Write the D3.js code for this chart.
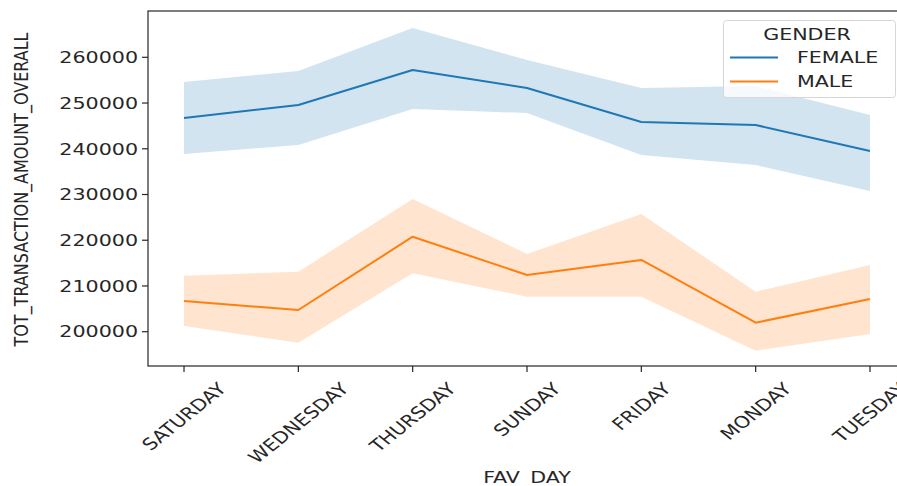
<!DOCTYPE html>
<html>
<head>
<meta charset="utf-8">
<script src="https://cdn.jsdelivr.net/npm/d3@7"></script>
<style>
  html, body { margin: 0; padding: 0; background: #fff; }
  svg { display: block; }
  text { font-family: "DejaVu Sans", sans-serif; fill: #262626; }
</style>
</head>
<body>
<svg id="chart" width="897" height="486"></svg>
<script>
// Favourite day of the week (x categories)
const days = ["SATURDAY", "WEDNESDAY", "THURSDAY", "SUNDAY", "FRIDAY", "MONDAY", "TUESDAY"];

// Mean total transaction amount with confidence interval, per gender
const femaleMean  = [246730, 249570, 257220, 253290, 245850, 245200, 239510];
const femaleLower = [238850, 240820, 248690, 247820, 238640, 236450, 230760];
const femaleUpper = [254600, 257000, 266410, 259410, 253290, 253720, 247380];

const maleMean  = [206710, 204750, 220770, 212400, 215680, 201970, 207150];
const maleLower = [201250, 197590, 212770, 207650, 207650, 195850, 199500];
const maleUpper = [212250, 213120, 229020, 216990, 225740, 208750, 214590];

const yTicks = [200000, 210000, 220000, 230000, 240000, 250000, 260000];

const legendTitle = "GENDER";
const seriesNames = ["FEMALE", "MALE"];
const seriesColors = ["#1f77b4", "#ff7f0e"];

const xLabel = "FAV_DAY";
const yLabel = "TOT_TRANSACTION_AMOUNT_OVERALL";

// Layout
const plot = { left: 148, top: 11, right: 906, bottom: 366 };
const fontSize = 16.5;
const stretch = 1.25; // horizontal glyph scaling

const svg = d3.select("#chart");

const x = d3.scaleLinear()
  .domain([-0.315, days.length - 1 + 0.315])
  .range([plot.left, plot.right]);

const y = d3.scaleLinear()
  .domain([192500, 270125])
  .range([plot.bottom, plot.top]);

const series = [
  { name: seriesNames[0], color: seriesColors[0], mean: femaleMean, lo: femaleLower, hi: femaleUpper },
  { name: seriesNames[1], color: seriesColors[1], mean: maleMean,   lo: maleLower,   hi: maleUpper }
];

// Confidence bands
const area = d3.area()
  .x((d, i) => x(i))
  .y0((d, i) => y(d.lo))
  .y1((d, i) => y(d.hi));

const line = d3.line()
  .x((d, i) => x(i))
  .y(d => y(d));

series.forEach(s => {
  const pts = s.mean.map((m, i) => ({ lo: s.lo[i], hi: s.hi[i] }));
  svg.append("path")
    .datum(pts)
    .attr("d", area)
    .attr("fill", s.color)
    .attr("fill-opacity", 0.2)
    .attr("stroke", "none");
});

series.forEach(s => {
  svg.append("path")
    .datum(s.mean)
    .attr("d", line)
    .attr("fill", "none")
    .attr("stroke", s.color)
    .attr("stroke-width", 2)
    .attr("stroke-linejoin", "round")
    .attr("stroke-linecap", "butt");
});

// Helper for horizontally stretched text
function stretchedText(parent, str, tx, ty, rot, anchor, baseline, size) {
  return parent.append("text")
    .attr("transform", `translate(${tx},${ty}) scale(${stretch},1) rotate(${rot})`)
    .attr("text-anchor", anchor)
    .attr("dominant-baseline", baseline)
    .style("font-size", (size || fontSize) + "px")
    .text(str);
}

// Y axis
const yAxis = svg.append("g");
yTicks.forEach(t => {
  const yy = y(t);
  yAxis.append("line")
    .attr("x1", plot.left - 6).attr("x2", plot.left)
    .attr("y1", yy).attr("y2", yy)
    .attr("stroke", "#262626").attr("stroke-width", 1.2);
  stretchedText(yAxis, d3.format("d")(t), plot.left - 10, yy, 0, "end", "central");
});

// X axis
const xAxis = svg.append("g");
days.forEach((d, i) => {
  const xx = x(i);
  xAxis.append("line")
    .attr("x1", xx).attr("x2", xx)
    .attr("y1", plot.bottom).attr("y2", plot.bottom + 6)
    .attr("stroke", "#262626").attr("stroke-width", 1.2);
  const g = xAxis.append("g");
  stretchedText(g, d, xx, 0, -45, "middle", "central");
  const r = g.node().getBBox();
  g.attr("transform", `translate(0,${379 - r.y})`);
});

// Spines
svg.append("rect")
  .attr("x", plot.left).attr("y", plot.top)
  .attr("width", plot.right - plot.left).attr("height", plot.bottom - plot.top)
  .attr("fill", "none")
  .attr("stroke", "#262626").attr("stroke-width", 1.2);

// Axis labels
stretchedText(svg, xLabel, (plot.left + plot.right) / 2, 483, 0, "middle", "auto");
stretchedText(svg, yLabel, 21, (plot.top + plot.bottom) / 2 + 1, -90, "middle", "central", 16);

// Legend
const legend = svg.append("g");
legend.append("rect")
  .attr("x", 723.5).attr("y", 20.5)
  .attr("width", 172).attr("height", 77)
  .attr("rx", 3).attr("ry", 3)
  .attr("fill", "#fff").attr("fill-opacity", 0.8)
  .attr("stroke", "#d6d6d6").attr("stroke-width", 1);
stretchedText(legend, legendTitle, 807, 40, 0, "middle", "auto");
series.forEach((s, i) => {
  const ly = 57.5 + i * 24;
  legend.append("line")
    .attr("x1", 730).attr("x2", 778)
    .attr("y1", ly).attr("y2", ly)
    .attr("stroke", s.color).attr("stroke-width", 2);
  stretchedText(legend, s.name, 797, ly, 0, "start", "central");
});
</script>
</body>
</html>
